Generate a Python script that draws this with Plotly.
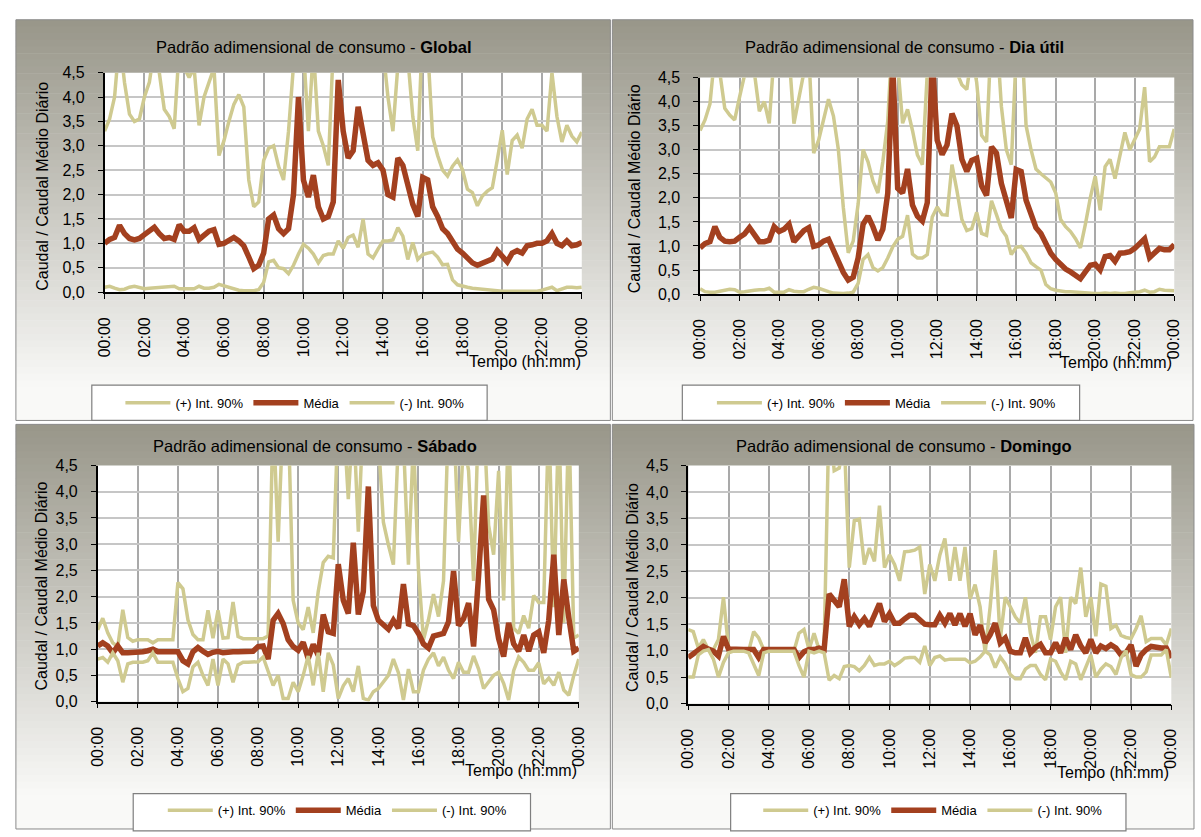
import plotly.graph_objects as go

W, H = 1201, 837
FONT = "Liberation Sans, Arial, sans-serif"

# ---------------- data (15-minute steps, 00:00 .. 24:00) ----------------
hours = [i / 4 for i in range(97)]
x_tick_vals = [0, 2, 4, 6, 8, 10, 12, 14, 16, 18, 20, 22, 24]
x_tick_text = ["00:00", "02:00", "04:00", "06:00", "08:00", "10:00", "12:00",
               "14:00", "16:00", "18:00", "20:00", "22:00", "00:00"]
y_tick_vals = [0, 0.5, 1, 1.5, 2, 2.5, 3, 3.5, 4, 4.5]

panel_names = ["Global", "Dia útil", "Sábado", "Domingo"]
legend_labels = ["(+) Int. 90%", "Média", "(-) Int. 90%"]

global_upper = [
    3.30, 3.55, 4.00, 5.20, 4.30, 3.65, 3.50, 3.55,
    4.00, 4.30, 5.00, 4.50, 3.75, 3.60, 3.35, 5.00,
    4.60, 4.40, 4.60, 3.42, 4.00, 4.30, 4.60, 2.80,
    3.10, 3.50, 3.85, 4.05, 3.80, 2.30, 1.75, 1.85,
    2.70, 2.95, 3.00, 2.58, 2.30, 3.30, 5.00, 6.00,
    5.00, 3.30, 5.00, 3.30, 3.00, 2.60, 5.00, 6.00,
    6.00, 6.00, 6.00, 6.00, 6.00, 6.00, 6.00, 6.00,
    5.00, 4.00, 3.30, 5.00, 6.00, 4.80, 3.60, 2.90,
    5.50, 5.00, 3.18, 2.80, 2.50, 2.38, 2.58, 2.71,
    2.51, 2.11, 2.04, 1.77, 1.97, 2.07, 2.14, 2.71,
    3.32, 2.41, 3.11, 3.22, 2.95, 3.55, 3.75, 3.42,
    3.42, 3.30, 4.50, 3.60, 3.08, 3.42, 3.20, 3.08,
    3.28]
global_mean = [
    1.00, 1.08, 1.12, 1.37, 1.20, 1.10, 1.07, 1.10,
    1.18, 1.25, 1.33, 1.20, 1.10, 1.12, 1.08, 1.38,
    1.25, 1.25, 1.32, 1.08, 1.18, 1.25, 1.28, 0.98,
    1.00, 1.05, 1.12, 1.05, 0.95, 0.72, 0.48, 0.55,
    0.80, 1.50, 1.58, 1.30, 1.20, 1.30, 2.00, 4.00,
    2.30, 1.95, 2.40, 1.75, 1.50, 1.55, 1.85, 4.35,
    3.30, 2.75, 2.90, 3.80, 3.20, 2.70, 2.60, 2.65,
    2.50, 2.00, 1.95, 2.75, 2.60, 2.20, 1.80, 1.55,
    2.35, 2.30, 1.75, 1.55, 1.30, 1.20, 1.05, 0.88,
    0.80, 0.70, 0.60, 0.55, 0.60, 0.62, 0.68, 0.85,
    0.75, 0.62, 0.80, 0.85, 0.80, 0.95, 0.97, 1.00,
    1.00, 1.05, 1.20, 1.00, 0.95, 1.05, 0.95, 0.97,
    1.02]
global_lower = [
    0.10, 0.12, 0.08, 0.05, 0.06, 0.10, 0.12, 0.10,
    0.07, 0.08, 0.09, 0.10, 0.10, 0.11, 0.12, 0.07,
    0.07, 0.08, 0.07, 0.12, 0.08, 0.08, 0.10, 0.16,
    0.13, 0.10, 0.07, 0.04, 0.03, 0.03, 0.03, 0.05,
    0.20, 0.62, 0.65, 0.50, 0.48, 0.38, 0.55, 0.78,
    0.98, 0.90, 0.78, 0.60, 0.75, 0.78, 0.78, 1.05,
    0.90, 1.12, 1.17, 0.92, 1.50, 0.78, 0.70, 0.88,
    1.05, 1.05, 1.07, 1.32, 1.15, 0.67, 1.02, 0.67,
    0.77, 0.80, 0.82, 0.72, 0.56, 0.57, 0.25, 0.15,
    0.12, 0.10, 0.08, 0.07, 0.06, 0.05, 0.03, 0.02,
    0.02, 0.02, 0.02, 0.03, 0.02, 0.02, 0.03, 0.02,
    0.04, 0.07, 0.10, 0.03, 0.07, 0.10, 0.10, 0.09,
    0.10]

dia_upper = [
    3.40, 3.62, 3.95, 5.00, 4.60, 3.86, 3.72, 3.62,
    4.10, 4.60, 5.00, 4.60, 3.80, 4.00, 3.55, 5.00,
    5.50, 5.50, 5.00, 3.54, 4.10, 4.60, 5.00, 2.93,
    3.20, 3.60, 4.05, 3.70, 3.00, 1.80, 0.86, 1.10,
    1.87, 3.00, 2.75, 2.35, 2.10, 2.75, 3.60, 5.50,
    4.80, 3.55, 3.84, 3.40, 2.89, 2.69, 4.60, 6.00,
    6.00, 6.00, 6.00, 5.50, 4.60, 4.35, 4.25, 5.00,
    4.40, 3.30, 3.16, 5.50, 5.50, 3.90, 3.00, 2.69,
    5.00, 5.50, 3.50, 3.00, 2.60, 2.50, 2.42, 2.33,
    2.10, 1.55, 1.40, 1.30, 1.15, 0.96, 1.45, 2.00,
    2.45, 1.74, 2.65, 2.80, 2.40, 2.90, 3.36, 3.00,
    3.23, 3.43, 4.30, 2.75, 2.85, 3.06, 3.06, 3.06,
    3.43]
dia_mean = [
    0.96, 1.05, 1.09, 1.40, 1.18, 1.10, 1.09, 1.10,
    1.18, 1.25, 1.38, 1.25, 1.09, 1.09, 1.12, 1.40,
    1.30, 1.35, 1.45, 1.09, 1.22, 1.32, 1.38, 0.99,
    1.02, 1.10, 1.14, 0.88, 0.68, 0.45, 0.29, 0.35,
    0.75, 1.45, 1.62, 1.40, 1.12, 1.35, 2.10, 4.80,
    2.20, 2.10, 2.60, 1.85, 1.62, 1.52, 1.90, 4.90,
    3.20, 2.90, 3.10, 3.75, 3.50, 2.80, 2.55, 2.78,
    2.82, 2.25, 2.05, 3.06, 2.93, 2.30, 1.95, 1.58,
    2.59, 2.55, 1.95, 1.62, 1.38, 1.26, 1.02, 0.85,
    0.72, 0.60, 0.52, 0.46, 0.40, 0.32, 0.46, 0.60,
    0.62, 0.50, 0.78, 0.80, 0.68, 0.85, 0.86, 0.88,
    0.95, 1.05, 1.15, 0.76, 0.84, 0.95, 0.92, 0.92,
    1.03]
dia_lower = [
    0.11, 0.05, 0.04, 0.04, 0.06, 0.08, 0.10, 0.09,
    0.04, 0.05, 0.07, 0.08, 0.09, 0.09, 0.12, 0.04,
    0.04, 0.04, 0.09, 0.06, 0.05, 0.05, 0.10, 0.14,
    0.12, 0.08, 0.05, 0.02, 0.01, 0.01, 0.02, 0.04,
    0.22, 0.72, 0.82, 0.55, 0.48, 0.55, 0.75, 0.98,
    1.14, 1.20, 1.64, 0.83, 0.75, 0.75, 0.82, 1.60,
    1.81, 1.65, 1.64, 2.69, 2.15, 1.55, 1.32, 1.36,
    1.70, 1.26, 1.22, 1.94, 1.65, 1.35, 1.20, 0.82,
    0.97, 0.99, 0.85, 0.65, 0.57, 0.50, 0.20, 0.11,
    0.08, 0.06, 0.05, 0.05, 0.04, 0.04, 0.03, 0.02,
    0.01, 0.01, 0.02, 0.01, 0.02, 0.01, 0.01, 0.03,
    0.04, 0.05, 0.08, 0.04, 0.05, 0.10, 0.08, 0.07,
    0.07]

sab_upper = [
    1.37, 1.59, 1.31, 1.12, 1.05, 1.75, 1.22, 1.15,
    1.18, 1.18, 1.18, 1.12, 1.18, 1.18, 1.18, 1.18,
    2.27, 2.15, 1.56, 1.28, 1.18, 1.18, 1.74, 1.21,
    1.74, 1.21, 1.22, 1.90, 1.24, 1.20, 1.20, 1.20,
    1.20, 1.20, 1.25, 5.50, 3.05, 5.50, 5.50, 1.93,
    1.50, 1.37, 1.80, 1.31, 2.10, 2.65, 2.77, 2.74,
    5.50, 5.50, 3.86, 5.50, 3.24, 5.50, 6.00, 6.00,
    5.00, 3.42, 2.99, 2.61, 5.00, 5.00, 2.61, 5.00,
    2.50, 1.18, 1.56, 2.05, 1.62, 2.30, 5.50, 5.50,
    3.05, 5.00, 4.40, 2.30, 5.50, 5.50, 3.36, 2.80,
    4.40, 1.93, 5.50, 1.40, 1.30, 1.64, 1.40, 2.02,
    1.89, 1.89, 5.50, 1.80, 5.50, 1.50, 5.50, 1.21,
    1.27]
sab_mean = [
    1.06, 1.12, 1.06, 0.93, 1.06, 0.93, 0.93, 0.93,
    0.95, 0.95, 0.97, 1.00, 0.95, 0.95, 0.95, 0.95,
    0.95, 0.78, 0.72, 0.95, 1.03, 0.96, 0.90, 0.94,
    0.96, 0.93, 0.95, 0.95, 0.95, 0.95, 0.95, 0.96,
    1.05, 1.06, 0.81, 1.55, 1.68, 1.49, 1.18, 1.05,
    0.98, 1.13, 0.82, 1.09, 0.88, 1.66, 1.33, 1.30,
    2.62, 1.93, 1.68, 3.03, 1.66, 2.10, 4.10, 1.83,
    1.55, 1.47, 1.38, 1.55, 1.40, 2.24, 1.48, 1.45,
    1.30, 1.10, 1.02, 1.25, 1.27, 1.30, 1.52, 2.49,
    1.45, 1.58, 1.88, 1.05, 2.40, 3.93, 1.95, 1.75,
    1.20, 0.86, 1.50, 1.10, 0.96, 1.27, 0.96, 1.27,
    1.33, 0.93, 1.55, 2.80, 1.27, 2.33, 1.60, 0.96,
    1.02]
sab_lower = [
    0.81, 0.84, 0.75, 0.93, 0.78, 0.37, 0.72, 0.75,
    0.75, 0.75, 0.78, 0.93, 0.75, 0.75, 0.75, 0.75,
    0.44, 0.19, 0.25, 0.66, 0.75, 0.50, 0.31, 0.81,
    0.31, 0.81, 0.72, 0.37, 0.70, 0.75, 0.75, 0.75,
    0.76, 0.85, 0.60, 0.31, 0.50, 0.06, 0.06, 0.37,
    0.19, 0.50, 0.87, 0.31, 0.93, 0.19, 0.93, 0.70,
    0.06, 0.30, 0.44, 0.19, 0.68, 0.06, 0.03, 0.19,
    0.25, 0.37, 0.50, 0.81, 0.55, 0.03, 0.62, 0.19,
    0.19, 0.60, 0.81, 0.93, 0.68, 0.85, 0.60, 0.44,
    0.75, 0.56, 0.56, 0.87, 0.62, 0.25, 0.37, 0.50,
    0.56, 0.35, 0.03, 0.59, 0.85, 0.75, 0.60, 0.60,
    0.74, 0.34, 0.45, 0.31, 0.56, 0.22, 0.12, 0.50,
    0.81]

dom_upper = [
    1.40, 1.36, 1.05, 1.21, 1.02, 1.02, 1.21, 2.01,
    1.05, 0.99, 0.99, 0.99, 0.99, 1.36, 1.24, 1.02,
    0.99, 0.99, 0.99, 0.99, 0.99, 0.99, 1.33, 1.40,
    1.02, 1.33, 1.02, 1.09, 5.50, 4.40, 4.45, 5.00,
    2.57, 3.46, 3.49, 2.63, 2.94, 2.69, 3.74, 2.57,
    2.81, 2.63, 2.32, 2.87, 2.88, 2.90, 2.96, 2.07,
    2.63, 2.32, 2.81, 3.12, 2.32, 2.96, 2.32, 2.96,
    1.98, 2.25, 1.83, 0.96, 1.83, 2.90, 1.21, 2.01,
    1.83, 1.64, 1.52, 2.01, 1.33, 0.96, 1.64, 1.64,
    1.21, 1.83, 2.01, 0.96, 2.01, 1.89, 2.57, 1.64,
    2.01, 1.27, 2.26, 2.22, 1.42, 1.48, 1.29, 1.25,
    1.23, 1.42, 1.66, 1.17, 1.23, 1.23, 1.23, 1.11,
    1.42]
dom_mean = [
    0.87, 0.95, 1.02, 1.08, 1.03, 0.99, 0.90, 1.27,
    1.03, 1.02, 1.02, 1.02, 1.02, 1.02, 0.87, 1.02,
    1.02, 1.02, 1.02, 1.02, 1.02, 1.02, 0.87, 0.98,
    1.02, 1.02, 1.05, 1.02, 2.07, 1.95, 1.83, 2.35,
    1.46, 1.64, 1.49, 1.61, 1.46, 1.67, 1.89, 1.55,
    1.70, 1.52, 1.52, 1.60, 1.67, 1.67, 1.58, 1.50,
    1.49, 1.49, 1.67, 1.52, 1.70, 1.49, 1.70, 1.46,
    1.70, 1.30, 1.48, 1.15, 1.30, 1.52, 1.15, 1.24,
    0.99, 0.96, 0.96, 1.24, 0.96, 1.06, 1.12, 0.96,
    0.96, 1.15, 0.96, 1.24, 1.02, 1.30, 1.09, 0.96,
    1.21, 0.96, 1.09, 1.04, 1.11, 1.05, 0.92, 0.96,
    1.11, 0.71, 0.92, 1.02, 1.08, 1.06, 1.05, 1.05,
    0.86]
dom_lower = [
    0.50, 0.50, 0.92, 0.99, 1.02, 0.84, 0.50, 0.78,
    0.96, 0.99, 0.99, 0.99, 0.96, 0.75, 0.53, 0.96,
    0.99, 0.99, 0.99, 0.99, 0.99, 0.99, 0.72, 0.50,
    0.99, 0.96, 0.99, 0.96, 0.44, 0.53, 0.47, 0.70,
    0.72, 0.70, 0.62, 0.72, 0.87, 0.72, 0.75, 0.75,
    0.80, 0.72, 0.78, 0.86, 0.87, 0.87, 0.78, 1.09,
    0.72, 0.87, 0.90, 0.82, 0.84, 0.84, 0.84, 0.84,
    0.77, 0.80, 0.88, 0.99, 0.92, 0.68, 0.88, 0.75,
    0.55, 0.47, 0.47, 0.65, 0.72, 0.72, 0.55, 0.45,
    0.84, 0.80, 0.60, 0.45, 0.80, 0.75, 0.45, 0.68,
    0.92, 0.50, 0.65, 0.75, 0.70, 0.55, 0.86, 1.00,
    0.55, 0.50, 0.50, 0.60, 0.92, 0.92, 0.92, 1.02,
    0.49]

series = [
    (global_upper, global_mean, global_lower),
    (dia_upper, dia_mean, dia_lower),
    (sab_upper, sab_mean, sab_lower),
    (dom_upper, dom_mean, dom_lower),
]
for s in series:
    for arr in s:
        assert len(arr) == len(hours), len(arr)

# ---------------- layout geometry (pixels) ----------------
panels = [
    dict(plot=(97, 581, 66, 290), frame=(7, 610, 12, 421), title=(309, 40),
         ytitle=(34, 182), tempo=(582, 361), lbox=(84, 485, 385, 421), lcenter=(290, 403)),
    dict(plot=(701, 1182, 71, 292), frame=(612, 1201, 12, 421), title=(908, 40),
         ytitle=(634, 185), tempo=(1182, 362), lbox=(683, 1086, 385, 421), lcenter=(890, 403)),
    dict(plot=(90, 578, 467, 708), frame=(7, 610, 425, 838), title=(310, 447),
         ytitle=(32, 590), tempo=(578, 778), lbox=(126, 529, 802, 840), lcenter=(333, 819)),
    dict(plot=(689, 1179, 467, 710), frame=(612, 1202, 425, 838), title=(908, 447),
         ytitle=(633, 592), tempo=(1179, 780), lbox=(732, 1133, 802, 840), lcenter=(937, 819)),
]

KHAKI = "#cfca90"
RUST = "#a3401f"


def fx(x):
    return x / W


def fy(y):
    return 1 - y / H


def grad_color(t):
    top = (152, 150, 137)
    bot = (249, 249, 247)
    k = min(t / 0.92, 1.0)
    c = [round(top[i] + (bot[i] - top[i]) * k) for i in range(3)]
    return "rgb(%d,%d,%d)" % tuple(c)


fig = go.Figure()
shapes = []
annotations = []
layout = dict(
    width=W, height=H, autosize=False,
    margin=dict(l=0, r=0, t=0, b=0),
    paper_bgcolor="white", plot_bgcolor="white",
    separators=",.",
    font=dict(family=FONT, size=16, color="#000"),
)

for i, p in enumerate(panels):
    n = "" if i == 0 else str(i + 1)
    x0, x1, y0, y1 = p["plot"]
    fx0, fx1, fy0, fy1 = p["frame"]

    # gradient background of the chart area
    nb = 60
    for b in range(nb):
        ya = fy0 + (fy1 - fy0) * b / nb
        yb = fy0 + (fy1 - fy0) * (b + 1) / nb + 0.6
        shapes.append(dict(type="rect", xref="paper", yref="paper", layer="below",
                           x0=fx(fx0), x1=fx(fx1), y0=fy(ya), y1=fy(yb),
                           fillcolor=grad_color((b + 0.5) / nb), line=dict(width=0)))
    shapes.append(dict(type="rect", xref="paper", yref="paper", layer="below",
                       x0=fx(fx0), x1=fx(fx1), y0=fy(fy0), y1=fy(fy1),
                       fillcolor="rgba(0,0,0,0)", line=dict(color="#8a8a8a", width=1)))
    # white plot area
    shapes.append(dict(type="rect", xref="paper", yref="paper", layer="below",
                       x0=fx(x0), x1=fx(x1), y0=fy(y1), y1=fy(y0),
                       fillcolor="white", line=dict(width=0)))
    # legend box
    lx0, lx1, ly0, ly1 = p["lbox"]
    shapes.append(dict(type="rect", xref="paper", yref="paper", layer="below",
                       x0=fx(lx0), x1=fx(lx1), y0=fy(ly1), y1=fy(ly0),
                       fillcolor="white", line=dict(color="#7f7f7f", width=1.2)))

    layout["xaxis" + n] = dict(
        domain=[fx(x0), fx(x1)], range=[0, 24], anchor="y" + n,
        tickvals=x_tick_vals, ticktext=x_tick_text, tickangle=-90,
        ticks="outside", ticklen=5, tickcolor="#000", tickwidth=1,
        showline=True, linecolor="#000", linewidth=1.5,
        showgrid=True, gridcolor="#a9a9a9", gridwidth=1.5, zeroline=False,
        tickfont=dict(family=FONT, size=16, color="#000"),
        ticklabelstandoff=12, fixedrange=True)
    layout["yaxis" + n] = dict(
        domain=[fy(y1), fy(y0)], range=[0, 4.5], anchor="x" + n,
        tickvals=y_tick_vals, tickformat=".1f",
        ticks="outside", ticklen=5, tickcolor="#000", tickwidth=1,
        showline=True, linecolor="#000", linewidth=1.5,
        showgrid=True, gridcolor="#c6c6c6", gridwidth=2, zeroline=False,
        tickfont=dict(family=FONT, size=16, color="#000"),
        ticklabelstandoff=10, fixedrange=True)

    up, mean, low = series[i]
    leg = "legend" + n
    for vals, name, color, width in ((up, legend_labels[0], KHAKI, 3.5),
                                     (mean, legend_labels[1], RUST, 5.5),
                                     (low, legend_labels[2], KHAKI, 3.5)):
        fig.add_trace(go.Scatter(
            x=hours, y=vals, mode="lines", name=name,
            line=dict(color=color, width=width),
            xaxis="x" + n, yaxis="y" + n, legend=leg, hoverinfo="skip"))

    cx, cy = p["lcenter"]
    layout[leg] = dict(
        x=fx(cx), y=fy(cy), xanchor="center", yanchor="middle",
        orientation="h", bgcolor="rgba(0,0,0,0)", borderwidth=0,
        font=dict(family=FONT, size=13, color="#000"),
        itemwidth=45, traceorder="normal", itemclick=False, itemdoubleclick=False)

    tx, ty = p["title"]
    annotations.append(dict(
        text="Padrão adimensional de consumo - <b>%s</b>" % panel_names[i],
        x=fx(tx), y=fy(ty), xref="paper", yref="paper",
        xanchor="center", yanchor="middle", showarrow=False,
        font=dict(family=FONT, size=16.5, color="#000")))
    ax_, ay_ = p["ytitle"]
    annotations.append(dict(
        text="Caudal / Caudal Médio Diário", textangle=-90,
        x=fx(ax_), y=fy(ay_), xref="paper", yref="paper",
        xanchor="center", yanchor="middle", showarrow=False,
        font=dict(family=FONT, size=16, color="#000")))
    rx, ry = p["tempo"]
    annotations.append(dict(
        text="Tempo (hh:mm)", x=fx(rx), y=fy(ry), xref="paper", yref="paper",
        xanchor="right", yanchor="middle", showarrow=False,
        font=dict(family=FONT, size=16, color="#000")))

layout["shapes"] = shapes
layout["annotations"] = annotations
fig.update_layout(**layout)
fig.write_html("out.html", config={"displayModeBar": False},
               post_script="document.body.style.margin='0px';")
